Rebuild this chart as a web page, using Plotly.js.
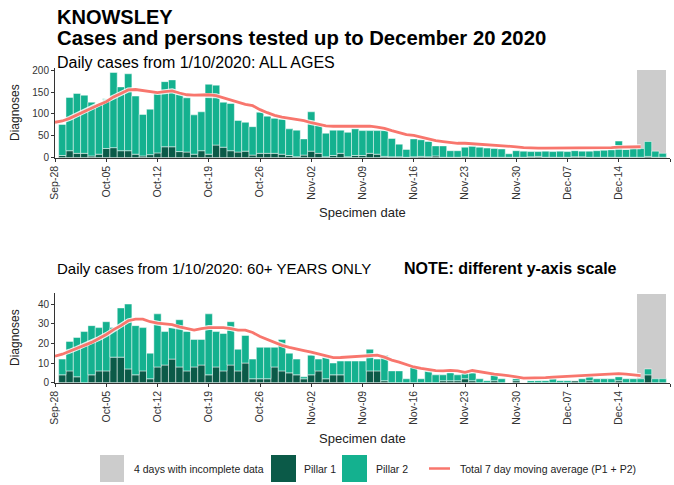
<!DOCTYPE html>
<html>
<head>
<meta charset="utf-8">
<script src="https://cdn.plot.ly/plotly-3.0.1.min.js"></script>
<style>html,body{margin:0;padding:0;background:#fff}#chart{width:674px;height:485px}</style>
</head>
<body>
<div id="chart"></div>
<script>
// ---- data ----
const firstBarDate = '2020-09-29';
const firstAvgDate = '2020-09-28';
const incompleteDates = ['2020-12-17','2020-12-18','2020-12-19','2020-12-20'];
const tickDates = ['2020-09-28','2020-10-05','2020-10-12','2020-10-19','2020-10-26','2020-11-02','2020-11-09','2020-11-16','2020-11-23','2020-11-30','2020-12-07','2020-12-14','2020-12-21'];
const tickLabels = ['Sep-28','Oct-05','Oct-12','Oct-19','Oct-26','Nov-02','Nov-09','Nov-16','Nov-23','Nov-30','Dec-07','Dec-14','Dec-21'];

// All ages
const pillar1All = [5,16,10,10,4,8,21,23,16,16, 8,4,7,11,25,25,14,13,8,16, 8,29,24,16,13,15,6,10,10,10,
  8,5,2,6,15,10,2,5,10,2, 5,5,10,8,3,2,2,1,2,3, 2,4,1,1,1,2,1,1,1,1, 1,1,1,1,2,3,1,1,1,1, 2,2,1,1,1,1,1,1,1,1, 3,1,1];
const pillar2All = [71,122,137,133,123,114,114,172,146,176, 133,95,104,139,149,153,131,124,90,89, 160,137,103,108,72,66,65,94,85,80,
  80,61,61,37,90,65,54,58,53,56, 61,57,52,54,59,42,29,18,41,38, 35,23,26,15,15,22,25,23,21,20, 19,8,15,14,12,11,14,13,14,13,
  14,13,14,15,16,17,37,18,21,20, 34,14,9];
const avgAll = [81,84,90,98,106,114,121,128,139,147, 155,156,154,151,149,151,153,148,144,143, 143,144,142,137,133,128,122,119,110,103,
  97,93,90,87,85,80,77,73,72,72, 72,72,72,72,70,67,62,57,53,51, 47,43,39,37,35,33,33,32,30,29, 28,27,26,25,23,22,22,22,22,22,
  22,22,22,22,22,23,23,24,24,25, 25];
const incompleteAll = [200,200,200,200];

// 60+ years only
const pillar1Old = [4,6,3,0,4,6,6,13,13,7, 4,6,2,8,9,12,8,6,8,9, 4,8,6,9,6,10,2,2,2,8, 6,5,4,2,4,6,2,4,4,0,
  0,0,6,6,1,0,0,0,0,0, 0,0,1,1,1,2,1,0,0,1, 0,0,1,0,0,0,0,0,0,0, 1,0,1,0,0,0,1,0,0,0, 4,0,0];
const pillar2Old = [8,15,20,26,25,22,25,15,25,33, 25,22,13,27,17,16,24,20,14,13, 31,18,19,22,11,14,10,16,16,10,
  16,10,8,1,10,6,11,6,7,11, 11,11,11,6,13,6,6,2,8,2, 6,4,3,4,3,3,4,2,1,3, 2,0,1,0,1,1,1,2,1,1, 0,2,2,2,2,2,2,2,2,2, 3,2,2];
const avgOld = [13.5,14.5,16,17.5,19,20.5,22.5,24.5,27,29, 31.5,32.3,32.3,31,30.3,30,29.5,28.4,27.5,26.7,
  27.5,28,28,28,27.5,26.7,26.7,25.5,23.5,22, 20.5,19,18,17,16.3,15.5,14.5,13.5,12.7,12.8,
  13,13.2,13.5,13.7,14,13,11.5,10.5,9.3,8, 7.3,6.6,6.1,6,6.3,6,5.3,6.2,5.5,4.9,
  4.4,4,3.6,3,2.3,2.3,2.5,2.6,2.8,3, 3.2,3.5,3.7,3.9,4.1,4.2,4.4,4.6,4.4,4, 3.6];
const incompleteOld = [45,45,45,45];

// ---- helpers ----
function dateSeq(start, n){
  const p = start.split('-').map(Number);
  const out = [];
  for (let i=0;i<n;i++){
    const d = new Date(Date.UTC(p[0], p[1]-1, p[2]+i));
    out.push(d.toISOString().slice(0,10));
  }
  return out;
}
const barDates = dateSeq(firstBarDate, pillar1All.length);
const avgDates = dateSeq(firstAvgDate, avgAll.length);

const C_P1 = '#0b5a48', C_P2 = '#14b18f', C_GREY = '#cccccc', C_AVG = '#f8766d';
const FONT = 'Liberation Sans, Arial, sans-serif';

function panel(xa, ya, p1, p2, avg, grey){
  return [
    {type:'bar', x:incompleteDates, y:grey, xaxis:xa, yaxis:ya, marker:{color:C_GREY, line:{width:0}}, hoverinfo:'skip', showlegend:false},
    {type:'bar', x:barDates, y:p1, xaxis:xa, yaxis:ya, marker:{color:C_P1, line:{color:'rgba(255,255,255,0.8)', width:0.6}}, showlegend:false},
    {type:'bar', x:barDates, y:p2, base:p1, xaxis:xa, yaxis:ya, marker:{color:C_P2, line:{color:'rgba(255,255,255,0.8)', width:0.6}}, showlegend:false},
    {type:'scatter', mode:'lines', x:avgDates, y:avg, xaxis:xa, yaxis:ya, line:{color:'rgba(255,255,255,0.85)', width:5}, hoverinfo:'skip', showlegend:false},
    {type:'scatter', mode:'lines', x:avgDates, y:avg, xaxis:xa, yaxis:ya, line:{color:C_AVG, width:2.8}, showlegend:false}
  ];
}
const data = [].concat(
  panel('x','y', pillar1All, pillar2All, avgAll, incompleteAll),
  panel('x2','y2', pillar1Old, pillar2Old, avgOld, incompleteOld)
);

const W = 674, H = 485;
const px = v => v / W;
const py = v => 1 - v / H;

function xaxisDef(anchor){
  return {
    anchor: anchor, domain:[px(55), px(670)], type:'date',
    range:['2020-09-28','2020-12-21'],
    tickmode:'array', tickvals:tickDates, ticktext:tickLabels, tickangle:-90,
    ticks:'outside', ticklen:3, tickwidth:1, tickcolor:'#333',
    showline:true, linecolor:'#333', linewidth:1, showgrid:false, zeroline:false,
    tickfont:{family:FONT, size:10.5, color:'#333'}, automargin:false, fixedrange:true
  };
}
function yaxisDef(anchor, dom, rng, vals){
  return {
    anchor: anchor, domain:dom, range:rng, tickmode:'array', tickvals:vals,
    ticks:'outside', ticklen:3, tickwidth:1, tickcolor:'#333',
    showline:true, linecolor:'#333', linewidth:1, showgrid:false, zeroline:false,
    tickfont:{family:FONT, size:10, color:'#333'}, automargin:false, fixedrange:true
  };
}

function txt(text, x, y, size, opts){
  return Object.assign({text:text, xref:'paper', yref:'paper', x:px(x), y:py(y), showarrow:false,
    xanchor:'left', yanchor:'middle', font:{family:FONT, size:size, color:'#000'}}, opts||{});
}

const annotations = [
  txt('<b>KNOWSLEY</b>', 55, 17, 20),
  txt('<b>Cases and persons tested up to December 20 2020</b>', 55, 38, 20.3),
  txt('Daily cases from 1/10/2020: ALL AGES', 55, 63, 16),
  txt('Daily cases from 1/10/2020: 60+ YEARS ONLY', 55, 268, 15),
  txt('<b>NOTE: different y-axis scale</b>', 402, 268, 16),
  txt('Diagnoses', 15, 113, 12, {xanchor:'center', textangle:-90, font:{family:FONT,size:12,color:'#222'}}),
  txt('Diagnoses', 15, 338, 12, {xanchor:'center', textangle:-90, font:{family:FONT,size:12,color:'#222'}}),
  txt('Specimen date', 362.5, 212, 13, {xanchor:'center', font:{family:FONT,size:13,color:'#222'}}),
  txt('Specimen date', 362.5, 438, 13, {xanchor:'center', font:{family:FONT,size:13,color:'#222'}}),
  txt('4 days with incomplete data', 132, 468.5, 10.5, {font:{family:FONT,size:10.5,color:'#222'}}),
  txt('Pillar 1', 302, 468.5, 10.5, {font:{family:FONT,size:10.5,color:'#222'}}),
  txt('Pillar 2', 374, 468.5, 10.5, {font:{family:FONT,size:10.5,color:'#222'}}),
  txt('Total 7 day moving average (P1 + P2)', 458, 468.5, 10.5, {font:{family:FONT,size:10.5,color:'#222'}})
];

function rect(x0,x1,y0,y1,color){
  return {type:'rect', xref:'paper', yref:'paper', x0:px(x0), x1:px(x1), y0:py(y1), y1:py(y0),
    fillcolor:color, line:{width:0}};
}
const shapes = [
  rect(100,124,455,482,C_GREY),
  rect(271,296,455,482,C_P1),
  rect(342,367,455,482,C_P2),
  {type:'line', xref:'paper', yref:'paper', x0:px(429), x1:px(450), y0:py(468.5), y1:py(468.5), line:{color:C_AVG, width:2.5}}
];

const layout = {
  width:W, height:H, margin:{l:0,r:0,t:0,b:0},
  paper_bgcolor:'#fff', plot_bgcolor:'#fff',
  barmode:'overlay', bargap:0, showlegend:false,
  font:{family:FONT},
  xaxis: xaxisDef('y'),
  yaxis: yaxisDef('x', [py(157.7), py(68)], [0, 205.2], [0,50,100,150,200]),
  xaxis2: xaxisDef('y2'),
  yaxis2: yaxisDef('x2', [py(382.7), py(293)], [0, 45.6], [0,10,20,30,40]),
  annotations: annotations,
  shapes: shapes
};

Plotly.newPlot('chart', data, layout, {displayModeBar:false, staticPlot:true});
</script>
</body>
</html>
